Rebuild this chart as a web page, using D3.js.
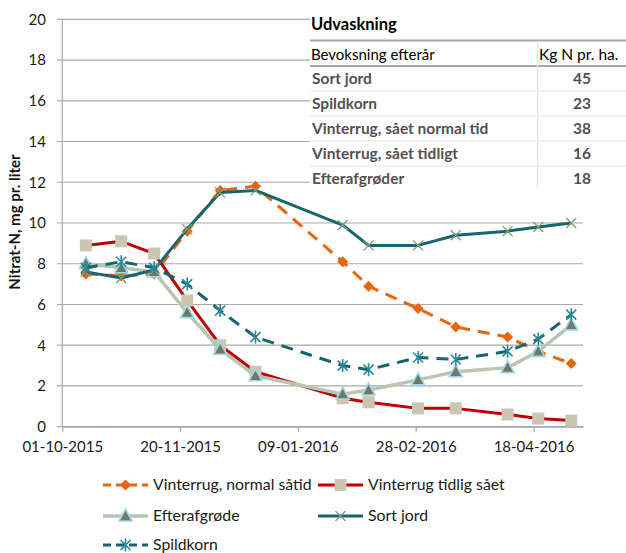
<!DOCTYPE html>
<html><head><meta charset="utf-8">
<script src="https://cdn.jsdelivr.net/npm/d3@7"></script>
<style>body{margin:0;background:#fff;}svg{display:block;font-family:Lato,"Open Sans",sans-serif;}</style>
</head><body>
<svg id="c" width="626" height="553"></svg>
<script>
const dates = ["2015-10-11","2015-10-26","2015-11-09","2015-11-23","2015-12-07","2015-12-22","2016-01-28","2016-02-08","2016-02-29","2016-03-16","2016-04-07","2016-04-20","2016-05-04"];
const vinterrugNormal = [7.5,7.4,7.5,9.6,11.6,11.8,8.1,6.9,5.8,4.9,4.4,3.7,3.1];
const vinterrugTidlig = [8.9,9.1,8.5,6.2,4.0,2.7,1.4,1.2,0.9,0.9,0.6,0.4,0.3];
const efterafgroede = [8.0,7.8,7.6,5.6,3.8,2.5,1.6,1.8,2.3,2.7,2.9,3.7,5.0];
const sortJord = [7.6,7.3,7.7,9.7,11.5,11.6,9.9,8.9,8.9,9.4,9.6,9.8,10.0];
const spildkorn = [7.8,8.1,7.8,7.0,5.7,4.4,3.0,2.8,3.4,3.3,3.7,4.3,5.5];
const seriesNames = ["Vinterrug, normal såtid","Vinterrug tidlig sået","Efterafgrøde","Sort jord","Spildkorn"];
const xTickLabels = ["01-10-2015","20-11-2015","09-01-2016","28-02-2016","18-04-2016"];
const yTicks = [0,2,4,6,8,10,12,14,16,18,20];
const tableTitle = "Udvaskning";
const tableHeader = ["Bevoksning efterår","Kg N pr. ha."];
const tableRows = ["Sort jord","Spildkorn","Vinterrug, sået normal tid","Vinterrug, sået tidligt","Efterafgrøder"];
const tableValues = [45,23,38,16,18];
const yTitle = "Nitrat-N, mg pr. liter";

const parse = d3.utcParse("%Y-%m-%d");
const parseTick = d3.utcParse("%d-%m-%Y");
const svg = d3.select("#c");

const x = d3.scaleUtc().domain([parse("2015-10-01"), parse("2016-05-09")]).range([62.3, 583]);
const y = d3.scaleLinear().domain([0,20]).range([426.7, 19.3]);

// gridlines
svg.append("g").selectAll("line").data(yTicks).join("line")
  .attr("x1", 57).attr("x2", 583).attr("y1", d=>y(d)).attr("y2", d=>y(d))
  .attr("stroke", "#a9a9a9").attr("stroke-width", 1.2);
// y axis line
svg.append("line").attr("x1", x.range()[0]).attr("x2", x.range()[0]).attr("y1", y(20)).attr("y2", y(0))
  .attr("stroke", "#a9a9a9").attr("stroke-width", 1.2);
// y labels
svg.append("g").selectAll("text").data(yTicks).join("text")
  .attr("x", 46).attr("y", d=>y(d)).attr("dy","0.36em").attr("text-anchor","end")
  .attr("font-size", 15).attr("fill","#1a1a1a").text(d=>d);
// x axis
const xAxis = d3.axisBottom(x).tickValues(xTickLabels.map(parseTick)).tickFormat(d3.utcFormat("%d-%m-%Y")).tickSize(5).tickSizeOuter(0);
const xg = svg.append("g").attr("transform", `translate(0,${y(0)})`).call(xAxis);
xg.select(".domain").attr("stroke","#a9a9a9").attr("stroke-width",1.2);
xg.selectAll(".tick line").attr("stroke","#a9a9a9").attr("stroke-width",1.2);
xg.selectAll(".tick text").attr("font-size",15).attr("font-family","Lato").attr("fill","#1a1a1a").attr("dy","1.15em");

// y title
svg.append("text").attr("transform","translate(20,222) rotate(-90)").attr("text-anchor","middle")
  .attr("font-size",15).attr("font-weight","bold").attr("fill","#111").text(yTitle);

// marker shapes
const markers = {
  diamond: (g, cx, cy) => g.append("path").attr("d", `M${cx},${cy-5.5}L${cx+5.5},${cy}L${cx},${cy+5.5}L${cx-5.5},${cy}Z`).attr("fill","#e8650f"),
  square: (g, cx, cy) => g.append("rect").attr("x",cx-6).attr("y",cy-6).attr("width",12).attr("height",12).attr("fill","#c9c6b3"),
  triangle: (g, cx, cy) => g.append("path").attr("d", `M${cx},${cy-7}L${cx+6.5},${cy+5}L${cx-6.5},${cy+5}Z`).attr("fill","#6c7a63").attr("stroke","#9fd6ec").attr("stroke-width",1.6),
  x: (g, cx, cy) => g.append("path").attr("d", `M${cx-5},${cy-5}L${cx+5},${cy+5}M${cx-5},${cy+5}L${cx+5},${cy-5}`).attr("stroke","#7f9b7a").attr("stroke-width",1.3).attr("fill","none"),
  star: (g, cx, cy) => g.append("path").attr("d", `M${cx-5},${cy-5}L${cx+5},${cy+5}M${cx-5},${cy+5}L${cx+5},${cy-5}M${cx},${cy-6.5}L${cx},${cy+6.5}`).attr("stroke","#2a8898").attr("stroke-width",1.6).attr("fill","none")
};

const series = [
  {name: seriesNames[0], values: vinterrugNormal, color:"#e8650f", width:3, dash:"12,8", marker:"diamond"},
  {name: seriesNames[1], values: vinterrugTidlig, color:"#c00000", width:3, dash:null, marker:"square"},
  {name: seriesNames[2], values: efterafgroede, color:"#b8c6b1", width:3.5, dash:null, marker:"triangle"},
  {name: seriesNames[3], values: sortJord, color:"#17666f", width:3, dash:null, marker:"x"},
  {name: seriesNames[4], values: spildkorn, color:"#17666f", width:3, dash:"12,8", marker:"star"}
];

const line = d3.line().x(d=>x(d.date)).y(d=>y(d.v));
series.forEach(s => {
  const pts = dates.map((d,i)=>({date: parse(d), v: s.values[i]}));
  const g = svg.append("g");
  g.append("path").datum(pts).attr("d", line).attr("fill","none").attr("stroke", s.color)
    .attr("stroke-width", s.width).attr("stroke-linejoin","round").attr("stroke-dasharray", s.dash);
  pts.forEach(p => markers[s.marker](g, x(p.date), y(p.v)));
});

// table
const tg = svg.append("g");
tg.append("rect").attr("x",310).attr("y",0).attr("width",316).attr("height",190).attr("fill","#fff");
tg.append("text").attr("x",311).attr("y",30).attr("font-size",16.5).attr("font-weight","bold").attr("fill","#000").text(tableTitle);
tg.append("line").attr("x1",310).attr("x2",626).attr("y1",40.5).attr("y2",40.5).attr("stroke","#a6a6a6").attr("stroke-width",2);
tg.append("text").attr("x",311).attr("y",60).attr("font-size",15).attr("fill","#000").text(tableHeader[0]);
tg.append("text").attr("x",539).attr("y",60).attr("font-size",15.5).attr("fill","#000").text(tableHeader[1]);
tg.append("line").attr("x1",310).attr("x2",626).attr("y1",66).attr("y2",66).attr("stroke","#a6a6a6").attr("stroke-width",2);
tg.append("line").attr("x1",537.5).attr("x2",537.5).attr("y1",41).attr("y2",188).attr("stroke","#e6e6e6").attr("stroke-width",1.5);
tableRows.forEach((r,i) => {
  const top = 66 + i*25;
  if (i>0) tg.append("line").attr("x1",310).attr("x2",626).attr("y1",top).attr("y2",top).attr("stroke","#ececec").attr("stroke-width",1.5);
  tg.append("text").attr("x",312).attr("y",top+18).attr("font-size",15.5).attr("font-weight","bold").attr("fill","#55504f").text(r);
  tg.append("text").attr("x",582).attr("y",top+18).attr("text-anchor","middle").attr("font-size",15.5).attr("font-weight","bold").attr("fill","#55504f").text(tableValues[i]);
});

// legend
const legPos = [[103,485],[318,485],[103,516],[318,516],[103,545]];
series.forEach((s,i) => {
  const [lx, ly] = legPos[i];
  const g = svg.append("g");
  g.append("line").attr("x1",lx).attr("x2",lx+45).attr("y1",ly).attr("y2",ly).attr("stroke",s.color)
    .attr("stroke-width",s.width).attr("stroke-dasharray", s.dash ? "8,5" : null);
  markers[s.marker](g, lx+22.5, ly);
  g.append("text").attr("x",lx+50).attr("y",ly).attr("dy","0.34em").attr("font-size",15.8).attr("fill","#1a1a1a").text(s.name);
});
</script>
</body></html>
